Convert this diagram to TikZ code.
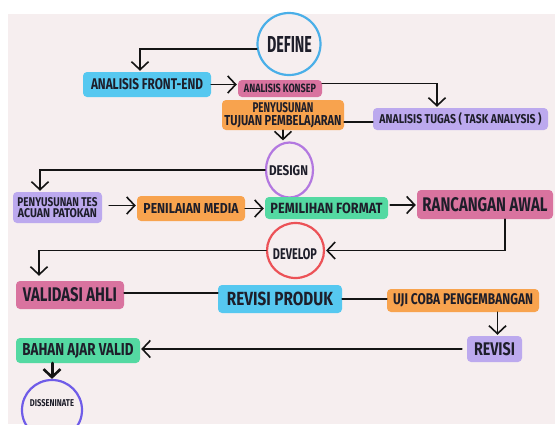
\documentclass[tikz,border=0pt]{standalone}
\usepackage{graphicx}
\usepackage{fontspec}
\newfontfamily\hand{Fira Sans}
\usetikzlibrary{arrows.meta,shapes.geometric,calc}
\definecolor{bg}{HTML}{F6EEEF}
\definecolor{ink}{HTML}{1E1E2A}
\definecolor{ink2}{HTML}{141414}
\definecolor{cyanb}{HTML}{56C8F0}
\definecolor{pinkb}{HTML}{D9739F}
\definecolor{orangeb}{HTML}{F8A34E}
\definecolor{purpleb}{HTML}{BCA9EE}
\definecolor{greenb}{HTML}{54D9A2}
\definecolor{ringblue}{HTML}{4AAFE8}
\definecolor{ringpurple}{HTML}{B378E0}
\definecolor{ringred}{HTML}{EC5257}
\definecolor{ringviolet}{HTML}{6F5CE8}
\newcommand\tx[3]{\resizebox{#1pt}{#2pt}{\hand\bfseries #3}}
\begin{document}
\begin{tikzpicture}[x=1pt,y=-1pt,
  box/.style={fill=#1, rounded corners=4pt, inner sep=0pt, text=ink, align=center, font=\fontsize{8}{12}\selectfont},
  conn/.style={draw=ink2, line width=1.8pt, line cap=round},
  arr/.style={conn, -{Straight Barb[length=8pt,width=17pt,line width=1.6pt]}, shorten >=1pt},
  ring/.style={draw=#1, line width=2.2pt, fill=bg, ellipse, inner sep=0pt, text=ink}
]
\useasboundingbox (0,0) rectangle (555,424);
\fill[white] (0,0) rectangle (555,424);
\fill[bg] (8,14) rectangle (555,424);

% circles
\node[ring=ringblue, minimum width=63pt, minimum height=62pt] (define) at (289,44) {};
\node at (289.5,44) {\color{ink}\tx{45}{16}{DEFINE}};
\node[ring=ringpurple, minimum width=47pt, minimum height=55pt] (design) at (289.5,170) {};
\node at (288.5,171) {\color{ink}\tx{39}{10}{DESIGN}};
\node[ring=ringred, minimum width=57pt, minimum height=55pt] (develop) at (295.5,250.5) {};
\node at (295,254.5) {\color{ink}\tx{44}{11}{DEVELOP}};
\node[ring=ringviolet, minimum width=60pt, minimum height=60pt] (dissem) at (52,410) {};
\node at (52,403.5) {\color{ink}\tx{44}{7}{DISSENINATE}};

% boxes
\node[box=cyanb, minimum width=128pt, minimum height=25pt] (fe) at (147,84.5) {\tx{112}{11}{ANALISIS FRONT-END}};
\node[box=pinkb, minimum width=84pt, minimum height=17pt] (konsep) at (280,88.5) {\tx{72}{8.5}{ANALISIS KONSEP}};
\node[box=orangeb, minimum width=122pt, minimum height=30pt, font=\fontsize{8}{13}\selectfont] (tujuan) at (283,115) {\tx{61}{10}{PENYUSUNAN}\\\tx{117}{10}{TUJUAN PEMBELAJARAN}};
\node[box=purpleb, minimum width=175pt, minimum height=22pt] (tugas) at (460.5,119) {\tx{162}{11}{ANALISIS TUGAS ( TASK ANALYSIS )}};
\node[box=purpleb, minimum width=89pt, minimum height=31pt, font=\fontsize{7}{11.5}\selectfont] (tes) at (57.5,207.5) {\tx{80}{9}{PENYUSUNAN TES}\\\tx{79}{9}{ACUAN PATOKAN}};
\node[box=orangeb, minimum width=108pt, minimum height=25pt] (media) at (191,208.5) {\tx{95}{10}{PENILAIAN MEDIA}};
\node[box=greenb, minimum width=123pt, minimum height=22pt] (format) at (326.5,208) {\tx{112}{10.5}{PEMILIHAN FORMAT}};
\node[box=pinkb, minimum width=136pt, minimum height=29pt] (awal) at (485,204.5) {\tx{125}{14}{RANCANGAN AWAL}};
\node[box=pinkb, minimum width=108pt, minimum height=28pt] (validasi) at (70,295) {\tx{94}{14}{VALIDASI AHLI}};
\node[box=cyanb, minimum width=124pt, minimum height=28pt] (revprod) at (280,299) {\tx{106}{13.5}{REVISI PRODUK}};
\node[box=orangeb, minimum width=152pt, minimum height=23pt] (uji) at (463,300.5) {\tx{140}{11}{UJI COBA PENGEMBANGAN}};
\node[box=purpleb, minimum width=55pt, minimum height=26pt] (revisi) at (494.5,349) {\tx{41}{13}{REVISI}};
\node[box=greenb, minimum width=124pt, minimum height=25pt] (bahan) at (78,350.5) {\tx{111}{12}{BAHAN AJAR VALID}};

% connectors
\draw[arr] (define.189) -| ([xshift=-7pt]fe.north);
\draw[arr] (fe.east) -- (fe.east -| konsep.west);
\draw[arr] ([yshift=5pt]konsep.east) -| ([xshift=-23.5pt]tugas.north);
\draw[conn] ([yshift=-3pt]tugas.west) -- ([yshift=-3pt]tugas.west -| tujuan.east);
\draw[arr] (tujuan.south) -- (tujuan.south |- design.north);
\draw[arr] (design.west) -| ([xshift=-17.5pt]tes.north);
\draw[arr, shorten <=7pt] ([yshift=2pt]tes.east) -- ([yshift=2pt]tes.east -| media.west);
\draw[arr] (media.east) -- (media.east -| format.west);
\draw[arr, shorten <=2pt] ([yshift=3pt]format.east) -- ([yshift=3pt]format.east -| awal.west);
\draw[arr] ([xshift=20pt]awal.south) |- (develop.east);
\draw[arr, shorten >=5pt] (develop.west) -| ([xshift=-31pt]validasi.north);
\draw[conn] ([yshift=2pt]validasi.east) -- ([yshift=2pt]validasi.east -| revprod.west);
\draw[conn] (revprod.east) -- (revprod.east -| uji.west);
\draw[arr] ([xshift=3pt]revisi.north |- uji.south) -- ([xshift=3pt]revisi.north);
\draw[arr, shorten <=5pt] (revisi.west) -- (revisi.west -| bahan.east);
\draw[conn, line width=3pt, -{Straight Barb[length=8pt,width=17pt,line width=2.6pt]}] (dissem.north |- bahan.south) -- (dissem.north);
\end{tikzpicture}
\end{document}
